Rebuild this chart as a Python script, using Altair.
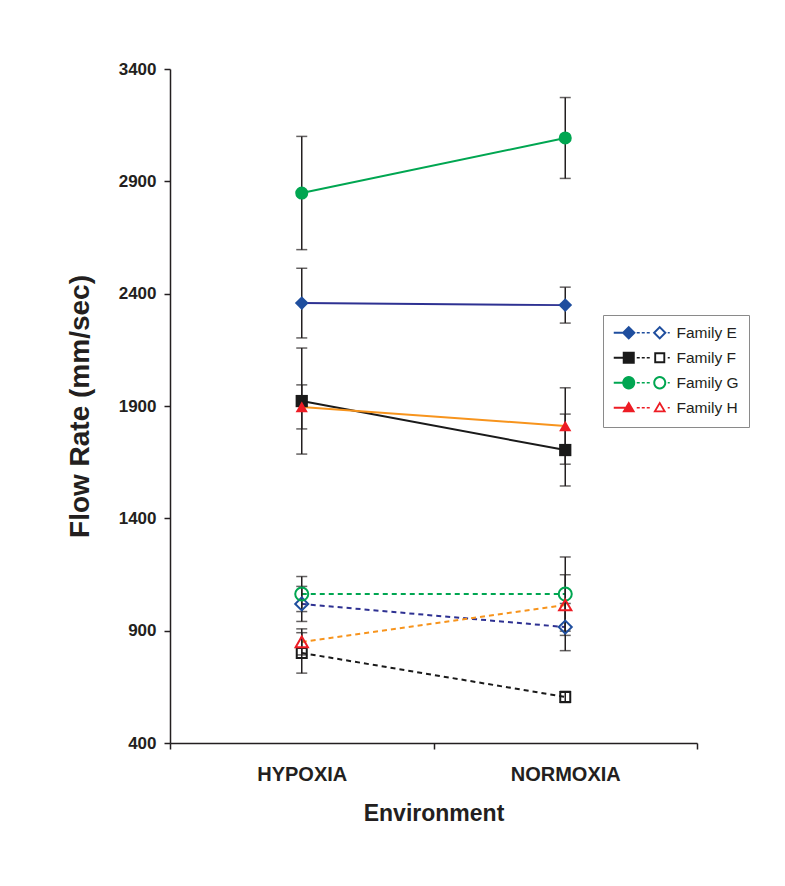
import altair as alt
import pandas as pd

# ---------------- data ----------------
environments = ["HYPOXIA", "NORMOXIA"]
families = ["Family E", "Family F", "Family G", "Family H"]

e_solid = [2358, 2349]
e_solid_err = [155, 80]
e_open = [1019, 916]
e_open_err = [78, 105]

f_solid = [1922, 1704]
f_solid_err = [236, 160]
f_open = [801, 605]
f_open_err = [90, 25]

g_solid = [2848, 3093]
g_solid_err = [252, 180]
g_open = [1063, 1063]
g_open_err = [78, 165]

h_solid = [1896, 1811]
h_solid_err = [98, 170]
h_open = [850, 1014]
h_open_err = [58, 135]

y_ticks = [400, 900, 1400, 1900, 2400, 2900, 3400]

series_data = [
    ("Family E", "solid", e_solid, e_solid_err),
    ("Family E", "open", e_open, e_open_err),
    ("Family F", "solid", f_solid, f_solid_err),
    ("Family F", "open", f_open, f_open_err),
    ("Family G", "solid", g_solid, g_solid_err),
    ("Family G", "open", g_open, g_open_err),
    ("Family H", "solid", h_solid, h_solid_err),
    ("Family H", "open", h_open, h_open_err),
]

# ---------------- styles ----------------
line_colors = {"Family E": "#2E3192", "Family F": "#1a1a1a",
               "Family G": "#00A651", "Family H": "#F7941D"}
marker_colors = {"Family E": "#1F4E9E", "Family F": "#1a1a1a",
                 "Family G": "#00A651", "Family H": "#ED1C24"}
shapes = {"Family E": "diamond", "Family F": "square",
          "Family G": "circle", "Family H": "triangle-up"}
sizes_filled = {"Family E": 190, "Family F": 150, "Family G": 170, "Family H": 150}
sizes_open = {"Family E": 170, "Family F": 100, "Family G": 170, "Family H": 150}
legend_colors = [marker_colors[f] for f in families]

FONT = "Liberation Sans"

rows = []
for fam, kind, means, errs in series_data:
    for env, m, e in zip(environments, means, errs):
        rows.append({"family": fam, "kind": kind, "series": f"{fam}|{kind}",
                     "env": env, "mean": m, "lo": m - e, "hi": m + e})
df = pd.DataFrame(rows)

# ---------------- legend symbol paths ----------------
S = 7.0  # px per unit (sqrt(196)/2)


def fmt(v):
    return f"{v / S:.3f}"


def rect(x1, x2, h):
    return f"M{fmt(x1)},{fmt(-h)}L{fmt(x2)},{fmt(-h)}L{fmt(x2)},{fmt(h)}L{fmt(x1)},{fmt(h)}Z"


def poly(pts):
    return "M" + "L".join(f"{fmt(x)},{fmt(y)}" for x, y in pts) + "Z"


def circle(cx, r, sweep):
    return (f"M{fmt(cx + r)},0A{fmt(r)},{fmt(r)} 0 1,{sweep} {fmt(cx - r)},0"
            f"A{fmt(r)},{fmt(r)} 0 1,{sweep} {fmt(cx + r)},0Z")


def marker(shape, cx, filled):
    if shape == "diamond":
        o = poly([(cx - 7, 0), (cx, -7), (cx + 7, 0), (cx, 7)])
        if filled:
            return o
        i = 4.2
        return o + poly([(cx - i, 0), (cx, i), (cx + i, 0), (cx, -i)])
    if shape == "square":
        a = 6 if filled else 5.5
        o = poly([(cx - a, -a), (cx + a, -a), (cx + a, a), (cx - a, a)])
        if filled:
            return o
        b = 3.6
        return o + poly([(cx - b, -b), (cx - b, b), (cx + b, b), (cx + b, -b)])
    if shape == "circle":
        o = circle(cx, 6.5, 1)
        if filled:
            return o
        return o + circle(cx, 4.5, 0)
    # triangle
    o = poly([(cx, -6.5), (cx + 6.5, 4.5), (cx - 6.5, 4.5)])
    if filled:
        return o
    return o + poly([(cx, -3.0), (cx - 3.35, 2.7), (cx + 3.35, 2.7)])


def legend_path(shape):
    p = rect(-7, 6, 1.0)
    p += marker(shape, 8, True)
    for a, b in [(16, 19), (21, 24), (26, 29)]:
        p += rect(a, b, 0.8)
    p += marker(shape, 39, False)
    p += rect(47, 49, 0.8)
    return p


legend_paths = [legend_path(shapes[f]) for f in families]

# ---------------- encodings ----------------
x_axis = alt.Axis(title="Environment", labelAngle=0, tickBand="extent", grid=False,
                  tickSize=6, labelFont=FONT, labelFontSize=20, labelFontWeight="bold",
                  labelColor="#231F20", labelPadding=15, titleFont=FONT, titleFontSize=23,
                  titleFontWeight="bold", titleColor="#231F20", titlePadding=18,
                  domainColor="#231F20", tickColor="#231F20", domainWidth=1.5, tickWidth=1.5)
y_axis = alt.Axis(title="Flow Rate (mm/sec)", values=y_ticks, format="d", grid=False, tickSize=6,
                  labelFont=FONT, labelFontSize=17, labelFontWeight="bold",
                  labelColor="#231F20", labelPadding=8, titleFont=FONT, titleFontSize=28,
                  titleFontWeight="bold", titleColor="#231F20", titlePadding=24,
                  domainColor="#231F20", tickColor="#231F20", domainWidth=1.5, tickWidth=1.5)

x_scale = alt.Scale(type="band", domain=environments, paddingInner=0, paddingOuter=0)
y_scale = alt.Scale(domain=[400, 3400], nice=False, zero=False)


def X():
    return alt.X("env:N", scale=x_scale, sort=environments, bandPosition=0.5, axis=x_axis)


def Y(field):
    return alt.Y(f"{field}:Q", scale=y_scale, axis=y_axis)


lines, bars, points = [], [], []
for fam, kind, _, _ in series_data:
    base = alt.Chart(df).transform_filter(alt.datum.series == f"{fam}|{kind}")
    if kind == "solid":
        lines.append(base.mark_line(color=line_colors[fam], strokeWidth=2)
                     .encode(x=X(), y=Y("mean")))
        points.append(base.mark_point(shape=shapes[fam], size=sizes_filled[fam], filled=True,
                                      color=marker_colors[fam], opacity=1)
                      .encode(x=X(), y=Y("mean")))
    else:
        lines.append(base.mark_line(color=line_colors[fam], strokeWidth=2, strokeDash=[5, 4])
                     .encode(x=X(), y=Y("mean")))
        points.append(base.mark_point(shape=shapes[fam], size=sizes_open[fam], filled=False,
                                      color=marker_colors[fam], strokeWidth=2, opacity=1)
                      .encode(x=X(), y=Y("mean")))
    bars.append(base.mark_rule(color="#231F20", strokeWidth=1.5)
                .encode(x=X(), y=Y("lo"), y2="hi:Q"))
    bars.append(base.mark_tick(color="#231F20", thickness=1.5, size=11)
                .encode(x=X(), y=Y("lo")))
    bars.append(base.mark_tick(color="#231F20", thickness=1.5, size=11)
                .encode(x=X(), y=Y("hi")))

legend = alt.Legend(title=None, orient="none", legendX=433, legendY=246,
                    strokeColor="#8a8a8a", fillColor="white", padding=10,
                    labelFont=FONT, labelFontSize=15.5, labelColor="#231F20",
                    labelOffset=48, symbolSize=196, symbolStrokeWidth=0,
                    symbolOpacity=1, rowPadding=8)

legend_layer = (alt.Chart(df)
                .transform_filter((alt.datum.kind == "solid") & (alt.datum.env == "HYPOXIA"))
                .mark_point(filled=True, opacity=0)
                .encode(x=X(), y=Y("mean"),
                        color=alt.Color("family:N", sort=families,
                                        scale=alt.Scale(domain=families, range=legend_colors),
                                        legend=legend),
                        shape=alt.Shape("family:N", sort=families,
                                        scale=alt.Scale(domain=families, range=legend_paths),
                                        legend=legend)))

chart = (alt.layer(*lines, *bars, *points, legend_layer)
         .properties(width=527, height=674,
                     padding={"left": 58, "top": 52, "right": 5, "bottom": 5})
         .configure(background="white")
         .configure_view(stroke=None))

chart.save("out.html", embed_options={"renderer": "svg", "actions": False})
